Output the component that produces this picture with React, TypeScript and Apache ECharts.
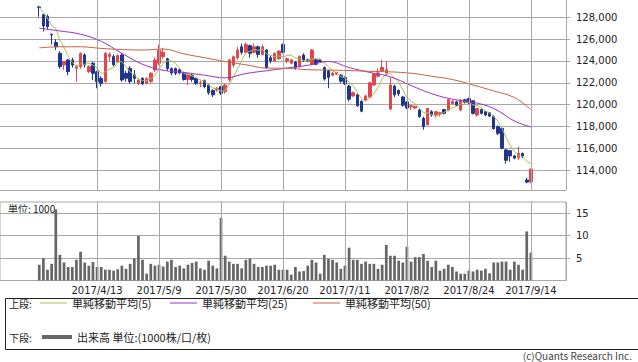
import React, { useEffect, useRef } from 'react';
import * as echarts from 'echarts';

// ---- data ----
// trading days 2017/3/24 .. 2017/9/14 (120 sessions)
const opens = [
  128950, 128250, 128100, 126450, 125700, 124700, 123640, 124090, 124090, 123330,
  123480, 124550, 123020, 123790, 123020, 122410, 122110, 124400, 124400, 123900,
  124550, 122870, 123330, 122720, 121950, 122410, 121950, 122110, 123180, 123800,
  124400, 124200, 123300, 123300, 123200, 122900, 122300, 122700, 122410, 121900,
  122200, 121800, 121300, 121340, 121650, 121200, 122260, 123630, 124300, 125300,
  124800, 125400, 124800, 125300, 124600, 125000, 124300, 124000, 124200, 125500,
  124000, 123800, 123900, 123500, 124550, 124100, 123700, 124100, 124100, 123400,
  123100, 122700, 122800, 122700, 122500, 121700, 120800, 120900, 120300, 120400,
  120700, 121800, 122600, 123100, 122900, 119600, 121700, 121300, 120700, 120250,
  119800, 119700, 119500, 118750, 118150, 119350, 119050, 119150, 119550, 119500,
  120100, 120250, 119500, 120450, 120550, 120350, 119050, 119550, 119350, 119250,
  118900, 117980, 117830, 115850, 115780, 115300, 115170, 115540, 113100, 112950,
];
const closes = [
  128900, 127200, 127150, 126400, 125300, 123480, 123940, 123020, 123630, 123480,
  124700, 123630, 123480, 122870, 122110, 121950, 124700, 124600, 123650, 124500,
  122260, 122410, 122110, 122410, 122260, 121900, 122410, 122870, 124090, 125000,
  124800, 123300, 122900, 122870, 122900, 122300, 122800, 122300, 121950, 122000,
  121650, 121100, 120900, 121500, 121040, 121800, 124100, 124390, 125000, 124800,
  125500, 124700, 125300, 124600, 125300, 123400, 124000, 124700, 124900, 124800,
  124200, 124100, 123400, 124400, 124090, 124000, 125000, 123700, 123950, 122350,
  122500, 122870, 122950, 122150, 121900, 120500, 121100, 119900, 119400, 120800,
  122000, 122800, 122900, 123400, 123200, 121800, 120900, 121000, 119950, 119700,
  119900, 119850, 118900, 117990, 119650, 119050, 119350, 119250, 119200, 120450,
  120300, 119950, 120400, 120200, 120150, 119200, 119650, 119200, 119050, 118950,
  117800, 117370, 116000, 114900, 115300, 115100, 115540, 115300, 112900, 114080,
];
const lows = [
  128050, 126700, 126900, 125500, 125000, 123300, 123200, 122700, 123400, 122100,
  123300, 123400, 122900, 122250, 121500, 121650, 122000, 124000, 123500, 123800,
  122100, 122100, 121900, 121950, 121800, 121800, 121850, 122000, 123000, 123600,
  124200, 123100, 122700, 122700, 122800, 122200, 121800, 122100, 121800, 121600,
  121500, 120900, 120700, 121200, 120880, 121000, 122100, 123400, 124100, 124600,
  124700, 124300, 124700, 124300, 124500, 123300, 123800, 123900, 124100, 124700,
  123800, 123700, 123200, 123400, 123900, 123900, 123600, 123600, 123900, 122200,
  121500, 122600, 122700, 122000, 121800, 120300, 120700, 119800, 119300, 120300,
  120600, 121700, 122500, 123000, 122700, 119500, 120700, 120800, 119800, 119600,
  119500, 119600, 118800, 117700, 118100, 118900, 118800, 118900, 119100, 119400,
  120000, 119900, 119400, 120100, 120050, 119100, 118900, 119100, 118950, 118850,
  117700, 117200, 115900, 114600, 114780, 115000, 114950, 115100, 112800, 112800,
];
const highs = [
  129050, 128300, 128250, 126500, 126000, 124900, 124000, 124200, 124300, 123630,
  124800, 124700, 123600, 123900, 123100, 122600, 124800, 124800, 124600, 124600,
  124700, 123100, 123500, 123180, 122400, 122500, 122500, 123000, 124300, 125500,
  125200, 124300, 123400, 123400, 123300, 123000, 122900, 122800, 122500, 122200,
  122300, 121900, 121400, 121600, 121700, 121900, 124200, 124500, 125300, 125600,
  125700, 125500, 125600, 125400, 125500, 125100, 124500, 124800, 125000, 125600,
  124300, 124200, 124000, 124500, 124700, 124200, 125100, 124200, 124200, 123500,
  123200, 123000, 123000, 122800, 122600, 121800, 121200, 121000, 120400, 120900,
  122100, 122900, 123300, 124100, 124000, 122500, 121800, 121400, 120800, 120300,
  120000, 119900, 119600, 118900, 119700, 119500, 119400, 119350, 119600, 120500,
  120400, 120350, 120500, 120550, 120650, 120400, 119700, 119650, 119400, 119300,
  119000, 118100, 117900, 115950, 115850, 115400, 116150, 115600, 113300, 114150,
];
const volumes = [
  3.5, 5.0, 2.4, 3.7, 15.8, 5.7, 4.0, 3.0, 3.0, 4.6,
  6.4, 4.0, 3.3, 4.1, 3.0, 3.0, 2.4, 2.4, 2.2, 2.5,
  3.3, 2.6, 3.7, 4.9, 9.9, 4.6, 1.5, 3.7, 3.3, 3.5,
  3.1, 4.2, 4.6, 3.0, 3.3, 2.7, 3.5, 3.9, 4.2, 2.7,
  2.4, 4.4, 3.3, 2.7, 13.9, 5.5, 4.2, 3.7, 3.7, 2.7,
  4.6, 4.9, 3.7, 3.0, 3.0, 3.3, 3.3, 3.5, 2.4, 2.4,
  2.4, 1.3, 3.0, 2.0, 2.1, 3.3, 4.6, 4.0, 1.5, 5.7,
  4.8, 4.6, 4.0, 2.6, 3.3, 7.3, 4.6, 4.6, 3.7, 4.2,
  3.7, 3.7, 2.6, 3.5, 7.9, 5.5, 5.5, 4.4, 4.0, 7.5,
  4.2, 5.2, 5.2, 5.9, 4.4, 3.0, 4.4, 2.2, 2.6, 3.5,
  3.0, 2.0, 1.5, 1.5, 2.2, 2.0, 2.4, 2.2, 2.6, 1.6,
  4.0, 4.0, 4.2, 4.2, 2.4, 4.2, 3.5, 2.4, 10.9, 6.2,
];
const ma5 = [
  128900, 128450, 127900, 127250, 126990, 125910, 125250, 124430, 123870, 123510,
  123750, 123690, 123780, 123630, 123360, 122810, 123020, 123250, 123400, 123880,
  123940, 123480, 122990, 122740, 122290, 122220, 122220, 122370, 122710, 123250,
  123830, 124010, 124020, 123770, 123350, 122850, 122750, 122630, 122450, 122270,
  122140, 121800, 121520, 121430, 121240, 121270, 121870, 122570, 123270, 124020,
  124760, 124880, 125060, 124980, 125080, 124660, 124520, 124400, 124460, 124360,
  124520, 124540, 124280, 124180, 124040, 124000, 124180, 124240, 124150, 123800,
  123500, 123070, 122920, 122560, 122470, 122070, 121720, 121110, 120560, 120340,
  120640, 120980, 121580, 122380, 122860, 122820, 122440, 122060, 121370, 120670,
  120290, 120080, 119660, 119270, 119260, 119090, 118990, 119060, 119300, 119460,
  119710, 119830, 120060, 120260, 120200, 119980, 119920, 119680, 119450, 119210,
  118930, 118470, 117830, 117000, 116270, 115730, 115370, 115230, 114830, 114580,
];
const ma25Idx = [0, 5, 10, 15, 20, 25, 30, 35, 40, 45, 50, 55, 60, 65, 70, 75, 80, 85, 90, 95, 100, 105, 110, 115, 119];
const ma25Val = [
  127000, 126750, 126450, 125800, 124700, 123700, 123150, 122950, 122700, 122450,
  122850, 123100, 123350, 123600, 123950, 123400, 122950, 122550, 121750, 121000,
  120500, 120220, 119650, 118500, 117950,
];
const ma50Idx = [0, 5, 10, 15, 20, 25, 30, 35, 40, 45, 50, 55, 60, 65, 70, 75, 80, 85, 90, 95, 100, 105, 110, 115, 119];
const ma50Val = [
  125200, 125300, 125300, 125150, 125050, 125000, 125100, 124650, 124300, 123950,
  123650, 123350, 123330, 123200, 123170, 123120, 123050, 123000, 122880, 122600,
  122300, 121800, 121250, 120650, 119550,
];
const labelDates = ['2017/4/13', '2017/5/9', '2017/5/30', '2017/6/20', '2017/7/11', '2017/8/2', '2017/8/24', '2017/9/14'];
const firstLabelIndex = 14;
const labelStep = 15;
const priceTicks = [114000, 116000, 118000, 120000, 122000, 124000, 126000, 128000];
const volumeTicks = [5, 10, 15];

const padBefore = 9;
const padAfter = 8;

const GRID = '#a8a8a8';
const UP = '#e0474c';
const DOWN = '#1f3590';
const JP = '"Noto Sans CJK JP", "Noto Sans", sans-serif';
const NUM = '"DejaVu Sans", sans-serif';

export default function App() {
  const ref = useRef<HTMLDivElement>(null);
  useEffect(() => {
    if (!ref.current) return;
    const chart = echarts.init(ref.current, undefined, { renderer: 'svg' });
    const n = closes.length;
    const total = padBefore + n + padAfter;
    const cats = Array.from({ length: total }, (_, k) => 'c' + k);
    const cat = (i: number) => padBefore + i;
    const labelAt: Record<number, string> = {};
    labelDates.forEach((d, m) => { labelAt[cat(firstLabelIndex + m * labelStep)] = d; });
    const gridCats = labelDates.map((_, m) => cats[cat(firstLabelIndex + m * labelStep)]);

    const candleData = closes.map((c, i) => [cat(i), opens[i], c, lows[i], highs[i]]);
    const volData = volumes.map((v, i) => [cat(i), v]);
    const ma5Data = ma5.map((v, i) => [cat(i), v]);
    const ma25Data = ma25Idx.map((i, k) => [cat(i), ma25Val[k]]);
    const ma50Data = ma50Idx.map((i, k) => [cat(i), ma50Val[k]]);

    const vLines = (xi: number, yi: number) => ({
      type: 'line', xAxisIndex: xi, yAxisIndex: yi, data: [], z: 1, silent: true,
      markLine: {
        silent: true, symbol: ['none', 'none'], label: { show: false },
        lineStyle: { color: GRID, type: 'solid', width: 1 },
        emphasis: { disabled: true },
        data: gridCats.map((c) => ({ xAxis: c })),
      },
    });

    const legendText = { fontSize: 11, lineHeight: 12, fontFamily: JP, color: '#222' };
    const option: any = {
      animation: false,
      grid: [
        { left: 0, right: 72, top: 0, height: 190 },
        { left: 0, right: 72, top: 202, height: 78.5, show: true, borderColor: GRID, borderWidth: 1 },
      ],
      xAxis: [
        {
          type: 'category', gridIndex: 0, data: cats,
          axisLine: { show: true, lineStyle: { color: GRID } },
          axisTick: { show: false }, axisLabel: { show: false }, splitLine: { show: false },
        },
        {
          type: 'category', gridIndex: 1, data: cats,
          axisLine: { show: true, lineStyle: { color: GRID } },
          axisTick: { show: false }, splitLine: { show: false },
          axisLabel: {
            interval: (idx: number) => labelAt[idx] !== undefined,
            formatter: (_v: string, idx: number) => labelAt[idx] || '',
            color: '#222', fontSize: 10, lineHeight: 11, fontFamily: NUM, margin: 4,
          },
        },
      ],
      yAxis: [
        {
          type: 'value', gridIndex: 0, position: 'right', min: 112180, max: 129585,
          axisLine: { show: true, lineStyle: { color: GRID } },
          axisTick: { show: true, length: 4, lineStyle: { color: GRID }, customValues: priceTicks },
          axisLabel: {
            customValues: priceTicks, color: '#222', fontSize: 10, fontFamily: NUM, margin: 10,
            formatter: (v: number) => v.toLocaleString('en-US'),
          },
          splitLine: { show: true, lineStyle: { color: GRID, width: 1 } },
        },
        {
          type: 'value', gridIndex: 1, position: 'right', min: 0, max: 17.45,
          axisLine: { show: true, lineStyle: { color: GRID } },
          axisTick: { show: true, length: 4, lineStyle: { color: GRID }, customValues: volumeTicks },
          axisLabel: { customValues: volumeTicks, color: '#222', fontSize: 10, fontFamily: NUM, margin: 10 },
          splitLine: { show: true, lineStyle: { color: GRID, width: 1 } },
        },
      ],
      legend: [
        { data: ['単純移動平均(5)'], left: 40, top: 297, padding: 0, icon: 'rect', itemWidth: 27, itemHeight: 1, textStyle: legendText },
        { data: ['単純移動平均(25)'], left: 170, top: 297, padding: 0, icon: 'rect', itemWidth: 27, itemHeight: 1, textStyle: legendText },
        { data: ['単純移動平均(50)'], left: 313, top: 297, padding: 0, icon: 'rect', itemWidth: 27, itemHeight: 1, textStyle: legendText },
        { data: ['出来高 単位:(1000株/口/枚)'], left: 42, top: 331, padding: 0, icon: 'rect', itemWidth: 30, itemHeight: 4, textStyle: legendText },
      ],
      graphic: [
        { type: 'rect', left: 3, top: 296, shape: { width: 633, height: 51 }, style: { fill: 'none', stroke: '#222', lineWidth: 1 }, silent: true },
        { type: 'text', left: 9, top: 297, style: { text: '上段:', fontSize: 10, lineHeight: 12, fontFamily: JP, fill: '#222' } },
        { type: 'text', left: 9, top: 331, style: { text: '下段:', fontSize: 10, lineHeight: 12, fontFamily: JP, fill: '#222' } },
        { type: 'text', left: 8, top: 203, style: { text: '単位: 1000', fontSize: 10, fontFamily: JP, fill: '#222' } },
        { type: 'text', right: 6, top: 350, style: { text: '(c)Quants Research Inc.', fontSize: 10, fontFamily: JP, fill: '#444' } },
      ],
      series: [
        vLines(0, 0),
        vLines(1, 1),
        {
          name: 'price', type: 'candlestick', xAxisIndex: 0, yAxisIndex: 0, z: 3,
          data: candleData, encode: { x: 0, y: [1, 2, 3, 4] }, barWidth: 3,
          itemStyle: { color: UP, color0: DOWN, borderColor: UP, borderColor0: DOWN, borderWidth: 1 },
        },
        {
          name: '単純移動平均(5)', type: 'line', xAxisIndex: 0, yAxisIndex: 0, z: 4, data: ma5Data,
          symbol: 'none', lineStyle: { color: '#a8c050', width: 1 }, itemStyle: { color: '#a8c050' },
        },
        {
          name: '単純移動平均(25)', type: 'line', xAxisIndex: 0, yAxisIndex: 0, z: 4, data: ma25Data,
          symbol: 'none', smooth: 0.4, lineStyle: { color: '#9930c8', width: 1 }, itemStyle: { color: '#9930c8' },
        },
        {
          name: '単純移動平均(50)', type: 'line', xAxisIndex: 0, yAxisIndex: 0, z: 4, data: ma50Data,
          symbol: 'none', smooth: 0.4, lineStyle: { color: '#cc6040', width: 1 }, itemStyle: { color: '#cc6040' },
        },
        {
          name: '出来高 単位:(1000株/口/枚)', type: 'bar', xAxisIndex: 1, yAxisIndex: 1, z: 3,
          data: volData, barWidth: 2.7, itemStyle: { color: '#666666' },
        },
      ],
    };
    chart.setOption(option);
    return () => chart.dispose();
  }, []);
  return <div ref={ref} style={{ position: 'fixed', left: 0, top: 0, width: 638, height: 362, background: '#fff' }} />;
}
